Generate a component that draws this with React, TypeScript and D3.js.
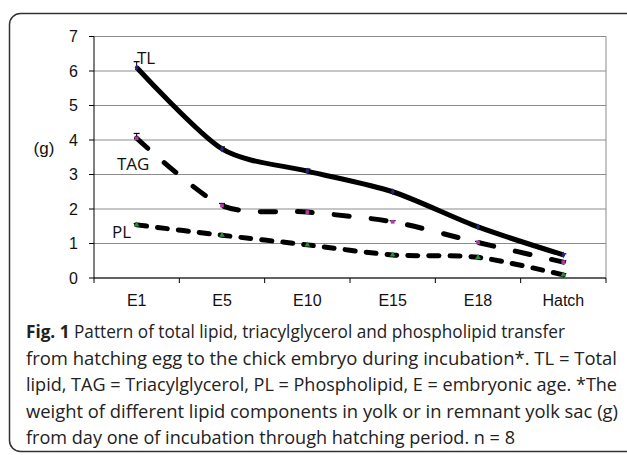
import React from 'react';
import * as d3 from 'd3';

const categories = ['E1', 'E5', 'E10', 'E15', 'E18', 'Hatch'];
const tlValues = [6.1, 3.74, 3.1, 2.5, 1.48, 0.67];
const tagValues = [4.05, 2.1, 1.91, 1.63, 1.03, 0.46];
const plValues = [1.54, 1.24, 0.96, 0.67, 0.6, 0.09];
const tlErr = [0.17, 0.06, 0.06, 0.03, 0.03, 0.03];
const tagErr = [0.14, 0.06, 0.03, 0.03, 0.03, 0.04];
const plErr = [0.04, 0.03, 0.03, 0.03, 0.03, 0.04];
const yTicks = [0, 1, 2, 3, 4, 5, 6, 7];

const captionLines = [
  'Pattern of total lipid, triacylglycerol and phospholipid transfer',
  'from hatching egg to the chick embryo during incubation*. TL = Total',
  'lipid, TAG = Triacylglycerol, PL = Phospholipid, E = embryonic age. *The',
  'weight of different lipid components in yolk or in remnant yolk sac (g)',
  'from day one of incubation through hatching period. n = 8',
];
const captionWidths = [539, 591, 591, 592, 489];

const W = 627;
const H = 455;
const plot = { left: 94, right: 606, top: 36.5, bottom: 278 };

const App = () => {
  const x = d3.scaleBand<string>().domain(categories).range([plot.left, plot.right]);
  const y = d3.scaleLinear().domain([0, 7]).range([plot.bottom, plot.top]);
  const cx = (c: string) => (x(c) || 0) + x.bandwidth() / 2;

  // smoothed lines like the spreadsheet original
  const line = d3
    .line<number>()
    .x((_, i) => cx(categories[i]))
    .y(d => y(d))
    .curve(d3.curveCardinal.tension(0.2));

  const series = [
    { values: tlValues, err: tlErr, dash: undefined, width: 5, marker: '#24247a', shape: d3.symbolDiamond },
    { values: tagValues, err: tagErr, dash: '15,22', width: 5, marker: '#b03aa8', shape: d3.symbolSquare },
    { values: plValues, err: plErr, dash: '10,11', width: 5, marker: '#2e8b3a', shape: d3.symbolTriangle },
  ];

  const font = 'Liberation Sans, Arial, sans-serif';

  return (
    <svg width={W} height={H} style={{ position: 'absolute', left: 0, top: 0 }}>
      <rect x={0} y={0} width={W} height={H} fill="#fff" />
      <rect x={9.5} y={13.5} width={630} height={438} rx={11} fill="none" stroke="#333" strokeWidth={1.5} />

      {/* grid */}
      {yTicks.map(t => (
        <line key={'g' + t} x1={plot.left} x2={plot.right} y1={y(t)} y2={y(t)} stroke="#8c8c8c" strokeWidth={1} />
      ))}
      <line x1={plot.right} x2={plot.right} y1={plot.top} y2={plot.bottom} stroke="#8c8c8c" strokeWidth={1} />

      {/* axes */}
      <line x1={plot.left} x2={plot.left} y1={plot.top} y2={plot.bottom} stroke="#000" strokeWidth={1} />
      <line x1={plot.left} x2={plot.right} y1={plot.bottom} y2={plot.bottom} stroke="#000" strokeWidth={1} />
      {yTicks.map(t => (
        <g key={'yt' + t}>
          <line x1={plot.left - 5} x2={plot.left} y1={y(t)} y2={y(t)} stroke="#000" />
          <text x={78} y={y(t) + 5.5} textAnchor="end" fontFamily={font} fontSize={16} fill="#111">
            {t}
          </text>
        </g>
      ))}
      {[...categories.map(c => x(c) || 0), plot.right].map((v, i) => (
        <line key={'xt' + i} x1={v} x2={v} y1={plot.bottom} y2={plot.bottom + 5} stroke="#000" />
      ))}
      {categories.map(c => (
        <text key={'xl' + c} x={cx(c)} y={306} textAnchor="middle" fontFamily={font} fontSize={16} fill="#111">
          {c}
        </text>
      ))}
      <text x={44} y={154} textAnchor="middle" fontFamily={font} fontSize={17} fill="#111">
        (g)
      </text>

      {/* series */}
      {series.map((s, si) => (
        <g key={'s' + si}>
          <path
            d={line(s.values) || ''}
            fill="none"
            stroke="#000"
            strokeWidth={s.width}
            strokeDasharray={s.dash}
            strokeLinecap={s.dash ? 'round' : 'butt'}
          />
          {s.values.map((v, i) => {
            const px = cx(categories[i]);
            return (
              <g key={i}>
                <line x1={px} x2={px} y1={y(v)} y2={y(v + s.err[i])} stroke="#000" strokeWidth={1} />
                <line x1={px - 3} x2={px + 3} y1={y(v + s.err[i])} y2={y(v + s.err[i])} stroke="#000" strokeWidth={1.2} />
                <path
                  d={d3.symbol().type(s.shape).size(14)() || ''}
                  transform={`translate(${px},${y(v)})`}
                  fill={s.marker}
                />
              </g>
            );
          })}
        </g>
      ))}

      {/* series labels */}
      <text x={137} y={64} fontFamily="Open Sans, sans-serif" fontSize={17} fill="#111">TL</text>
      <text x={117} y={170} fontFamily="Open Sans, sans-serif" fontSize={17} fill="#111">TAG</text>
      <text x={112} y={238} fontFamily="Open Sans, sans-serif" fontSize={17} fill="#111">PL</text>

      {/* caption */}
      {captionLines.map((l, i) => (
        <text
          key={'c' + i}
          x={26}
          y={338 + i * 26.5}
          fontFamily="Open Sans, sans-serif"
          fontSize={18}
          fill="#222"
          textLength={captionWidths[i]}
          lengthAdjust="spacingAndGlyphs"
        >
          {i === 0 && <tspan fontWeight="bold">Fig. 1 </tspan>}
          {l}
        </text>
      ))}
    </svg>
  );
};

export default App;
